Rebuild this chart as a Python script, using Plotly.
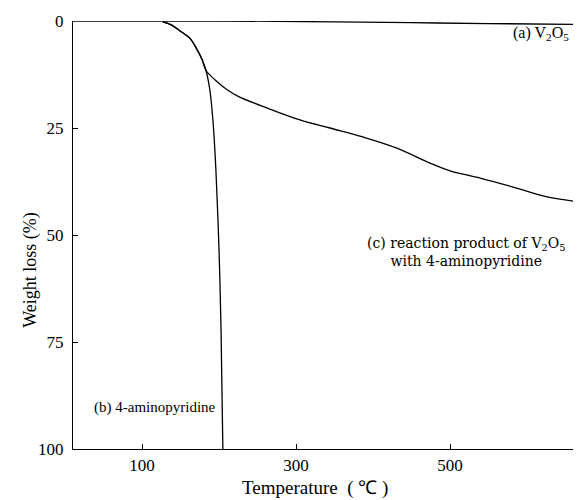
import plotly.graph_objs as go

# TGA curves (temperature in deg C, weight loss in %)
temp_a = [10.4, 100, 200, 350, 450, 550, 670]
loss_a = [0, 0, 0, 0.2, 0.4, 0.6, 0.8]

temp_b = [127, 138, 150, 162, 171, 178, 183, 188, 192, 196, 200, 202.6, 205]
loss_b = [0.2, 0.9, 2.4, 4, 6.5, 9, 11.5, 16, 23, 35, 53.5, 72, 100]

temp_c = [127, 138, 150, 162, 171, 178, 183, 195, 210, 225, 262, 305, 344, 387, 431, 474, 500, 539, 582, 626, 670]
loss_c = [0.2, 0.9, 2.4, 4, 6.5, 9, 11.5, 13.8, 16, 17.6, 20.3, 23.1, 25, 27.1, 29.7, 33.2, 35, 36.7, 38.8, 41.1, 42.3]

x_ticks = [100, 300, 500]
y_ticks = [0, 25, 50, 75, 100]

serif = "Liberation Serif, Times New Roman, serif"
wide_serif = "DejaVu Serif, serif"
line = dict(color="black", width=1.3)

fig = go.Figure()
fig.add_trace(go.Scatter(x=temp_a, y=loss_a, mode="lines", line=line, line_shape="spline", cliponaxis=False))
fig.add_trace(go.Scatter(x=temp_b, y=loss_b, mode="lines", line=line, line_shape="spline"))
fig.add_trace(go.Scatter(x=temp_c, y=loss_c, mode="lines", line=line, line_shape="spline"))

fig.add_annotation(x=618, y=3, text="(a) V<sub>2</sub>O<sub>5</sub>", showarrow=False,
                   font=dict(family=serif, size=16, color="black"))
fig.add_annotation(x=521, y=53.9, text="(c) reaction product of V<sub>2</sub>O<sub>5</sub><br>with 4-aminopyridine",
                   showarrow=False, font=dict(family=wide_serif, size=14, color="black"))
fig.add_annotation(x=117, y=90.2, text="(b) 4-aminopyridine", showarrow=False,
                   font=dict(family=serif, size=15, color="black"))

fig.add_annotation(xref="paper", yref="paper", x=-0.110, y=0.418, text="Weight loss (%)", textangle=-90,
                   showarrow=False, font=dict(family=serif, size=18, color="black"))
fig.add_annotation(xref="paper", yref="paper", x=0.476, y=0, yshift=-39, yanchor="middle",
                   text="Temperature  ( ℃ )", showarrow=False, font=dict(family=serif, size=19, color="black"))

# the page adds an 8px body margin, so the figure is drawn 8px smaller
fig.update_layout(
    width=573, height=492, margin=dict(l=65, r=0, t=13, b=51),
    paper_bgcolor="white", plot_bgcolor="white", showlegend=False,
    font=dict(family=serif, size=17, color="black"),
    xaxis=dict(range=[10.4, 670], tickvals=x_ticks, ticks="inside", ticklen=5, tickcolor="black",
               showline=True, linecolor="black", linewidth=1.3, showgrid=False, zeroline=False),
    yaxis=dict(range=[100, 0], tickvals=y_ticks, ticks="inside", ticklen=5, tickcolor="black",
               ticklabelstandoff=5,
               showline=True, linecolor="black", linewidth=1.3, showgrid=False, zeroline=False),
)

fig.write_html("out.html")
